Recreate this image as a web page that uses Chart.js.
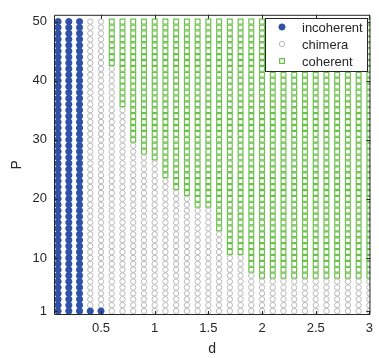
<!DOCTYPE html>
<html>
<head>
<meta charset="utf-8">
<script src="https://cdn.jsdelivr.net/npm/chart.js@4"></script>
<style>
  html, body { margin: 0; padding: 0; background: #ffffff; }
  #wrap { width: 379px; height: 358px; }
</style>
</head>
<body>
<div id="wrap"><canvas id="c" width="379" height="358"></canvas></div>
<script>
// ---- data ----
const dValues = [0.1,0.2,0.3,0.4,0.5,0.6,0.7,0.8,0.9,1.0,1.1,1.2,1.3,1.4,1.5,1.6,1.7,1.8,1.9,2.0,2.1,2.2,2.3,2.4,2.5,2.6,2.7,2.8,2.9,3.0];
const pValues = [];
for (let p = 1; p <= 50; p++) pValues.push(p);
// highest P that is incoherent in each d column (0 = none)
const incoherentUpTo = [50,50,50,1,1,0,0,0,0,0,0,0,0,0,0,0,0,0,0,0,0,0,0,0,0,0,0,0,0,0];
// lowest P that is coherent in each d column (51 = none)
const coherentFrom = [51,51,51,51,51,43,36,30,28,27,24,22,21,19,19,15,11,11,8,7,7,7,7,7,7,7,7,7,7,7];
const xTicks = [0.5,1,1.5,2,2.5,3];
const yTicks = [1,10,20,30,40,50];
const seriesNames = ['incoherent','chimera','coherent'];

const incoherentPts = [], chimeraPts = [], coherentPts = [];
dValues.forEach((d, i) => {
  pValues.forEach(p => {
    if (p <= incoherentUpTo[i]) incoherentPts.push({x: d, y: p});
    else if (p >= coherentFrom[i]) coherentPts.push({x: d, y: p});
    else chimeraPts.push({x: d, y: p});
  });
});

const axisColor = '#262626';
const fontFam = '"Liberation Sans", Arial, Helvetica, sans-serif';

const boxPlugin = {
  id: 'boxTicks',
  afterDatasetsDraw(chart) {
    const {ctx, chartArea: a, scales: {x, y}} = chart;
    ctx.save();
    ctx.strokeStyle = axisColor;
    ctx.lineWidth = 1;
    ctx.beginPath();
    ctx.rect(a.left + 0.5, a.top + 0.5, a.right - a.left - 1, a.bottom - a.top - 1);
    ctx.stroke();
    const tl = 4;
    ctx.beginPath();
    xTicks.forEach(v => {
      const px = Math.round(x.getPixelForValue(v)) + 0.5;
      ctx.moveTo(px, a.bottom); ctx.lineTo(px, a.bottom - tl);
      ctx.moveTo(px, a.top); ctx.lineTo(px, a.top + tl);
    });
    yTicks.forEach(v => {
      const py = Math.round(y.getPixelForValue(v)) + 0.5;
      ctx.moveTo(a.left, py); ctx.lineTo(a.left + tl, py);
      ctx.moveTo(a.right, py); ctx.lineTo(a.right - tl, py);
    });
    ctx.stroke();

    // legend
    const lx = 265, ly = 18, lw = 102, lh = 53;
    ctx.fillStyle = '#ffffff';
    ctx.fillRect(lx, ly, lw, lh);
    ctx.strokeStyle = axisColor;
    ctx.lineWidth = 1;
    ctx.strokeRect(lx + 0.5, ly + 0.5, lw, lh);
    ctx.font = '13px ' + fontFam;
    ctx.textBaseline = 'middle';
    ctx.textAlign = 'left';
    chart.data.datasets.forEach((ds, i) => {
      const cy = 27 + i * 17;
      ctx.fillStyle = ds.backgroundColor;
      ctx.strokeStyle = ds.borderColor;
      ctx.lineWidth = ds.borderWidth;
      ctx.beginPath();
      if (ds.pointStyle === 'circle') {
        ctx.arc(282, cy, ds.pointRadius, 0, Math.PI * 2);
      } else {
        const s = Math.SQRT1_2 * ds.pointRadius;
        ctx.rect(282 - s, cy - s, 2 * s, 2 * s);
      }
      if (ds.backgroundColor !== 'rgba(0,0,0,0)') ctx.fill();
      ctx.stroke();
      ctx.fillStyle = axisColor;
      ctx.fillText(ds.label, 302, cy + 1);
    });
    ctx.restore();
  }
};

new Chart(document.getElementById('c'), {
  type: 'scatter',
  data: {
    datasets: [
      { label: seriesNames[0], data: incoherentPts, pointStyle: 'circle', pointRadius: 3.1,
        backgroundColor: '#2f51a6', borderColor: '#2f51a6', borderWidth: 1 },
      { label: seriesNames[1], data: chimeraPts, pointStyle: 'circle', pointRadius: 2.7,
        backgroundColor: 'rgba(0,0,0,0)', borderColor: '#b8b8b8', borderWidth: 1 },
      { label: seriesNames[2], data: coherentPts, pointStyle: 'rect', pointRadius: 3.4,
        backgroundColor: 'rgba(0,0,0,0)', borderColor: '#6cc04c', borderWidth: 1.2 }
    ]
  },
  options: {
    responsive: false,
    animation: false,
    events: [],
    layout: { padding: { top: 7, right: 4, left: 0, bottom: 0 } },
    plugins: { legend: { display: false }, tooltip: { enabled: false } },
    scales: {
      x: {
        type: 'linear', min: 0.062, max: 3.01,
        afterBuildTicks: s => { s.ticks = xTicks.map(v => ({value: v})); },
        afterFit: s => { s.height = 43; },
        grid: { display: false, drawTicks: false },
        border: { display: false },
        ticks: { padding: 6, color: axisColor, font: { family: fontFam, size: 13 },
                 maxRotation: 0, autoSkip: false, callback: v => String(v) },
        title: { display: true, text: 'd', color: axisColor, font: { family: fontFam, size: 14 },
                 padding: { top: 1.6, bottom: 0 } }
      },
      y: {
        type: 'linear', min: 0.34, max: 51.15,
        afterBuildTicks: s => { s.ticks = yTicks.map(v => ({value: v})); },
        afterFit: s => { s.width = 54; },
        grid: { display: false, drawTicks: false },
        border: { display: false },
        ticks: { padding: 7, color: axisColor, font: { family: fontFam, size: 13 },
                 autoSkip: false, callback: v => String(v) },
        title: { display: true, text: 'P', color: axisColor, font: { family: fontFam, size: 14 },
                 padding: { top: 8.6, bottom: 0 } }
      }
    }
  },
  plugins: [boxPlugin]
});
</script>
</body>
</html>
